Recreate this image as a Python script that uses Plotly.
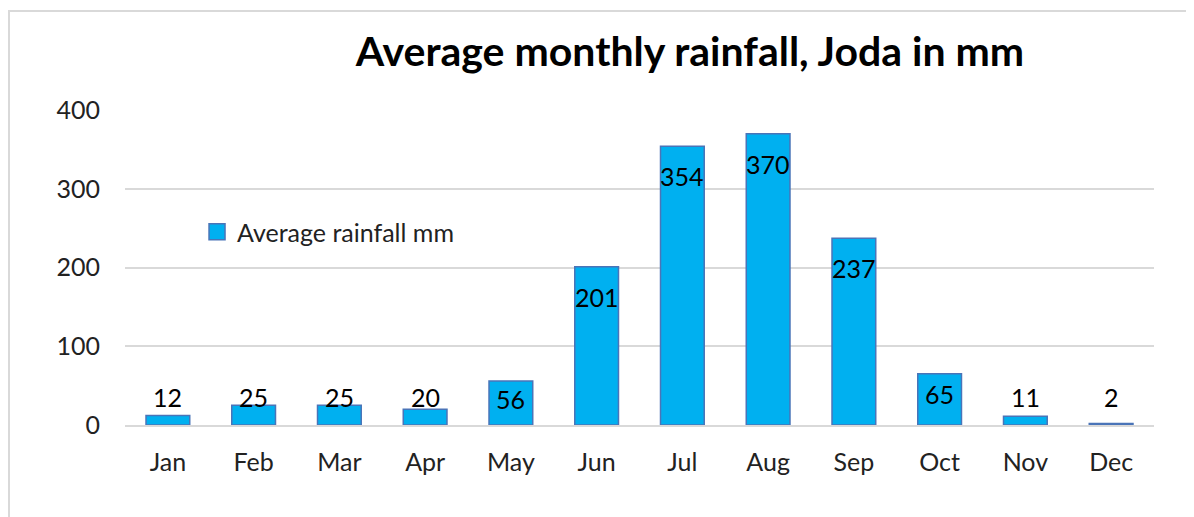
import plotly.graph_objects as go

months = ["Jan", "Feb", "Mar", "Apr", "May", "Jun", "Jul", "Aug", "Sep", "Oct", "Nov", "Dec"]
rainfall = [12, 25, 25, 20, 56, 201, 354, 370, 237, 65, 11, 2]
y_ticks = [0, 100, 200, 300, 400]
series_name = "Average rainfall mm"

# page body has an 8px margin, so figure coords = page coords - 8
W, H = 1194, 517
l, r, t, b = 117, 48, 102, 100
pw, ph = W - l - r, H - t - b
y_max = 400
px_per_unit = ph / y_max

bar_color = "#00B0F0"
edge_color = "#4A74B8"

fig = go.Figure()
fig.add_trace(go.Bar(
    x=months, y=rainfall, name=series_name, showlegend=False,
    marker=dict(color=bar_color, line=dict(color=edge_color, width=1.5)),
))
# legend entry with a larger square swatch
fig.add_trace(go.Scatter(
    x=[None], y=[None], mode="markers", name=series_name,
    marker=dict(symbol="square", size=18, color=bar_color, line=dict(color=edge_color, width=1.5)),
))

annotations = []
for m, v in zip(months, rainfall):
    h_px = v * px_per_unit
    if v > 40:
        shift = -min(30, 0.4 * h_px)
    else:
        # short bars: label sits at a common height just above the bars
        shift = max(28 - h_px, 8)
    annotations.append(dict(x=m, y=v, xref="x", yref="y", text=str(v), showarrow=False,
                            yanchor="middle", yshift=shift,
                            font=dict(family="Lato", size=25, color="#000000")))

fig.update_layout(
    width=W, height=H,
    margin=dict(l=l, r=r, t=t, b=b),
    paper_bgcolor="white", plot_bgcolor="white",
    font=dict(family="Lato", size=25, color="#222222"),
    title=dict(text="<b>Average monthly rainfall, Joda in mm</b>",
               font=dict(family="Lato", size=41, color="#000000"),
               x=(690 - 8) / W, xref="container", xanchor="center",
               y=1 - (52 - 8) / H, yref="container", yanchor="middle"),
    bargap=0.49,
    showlegend=True,
    legend=dict(x=0.07, y=(425 - 232) / 315, xanchor="left", yanchor="middle",
                bgcolor="rgba(0,0,0,0)", font=dict(family="Lato", size=25, color="#222222"),
                itemwidth=30),
    xaxis=dict(showgrid=False, showline=True, linecolor="#D9D9D9", linewidth=2,
               ticks="", ticklabelstandoff=14, tickfont=dict(size=25)),
    yaxis=dict(range=[0, y_max], tickvals=y_ticks, showgrid=True, gridcolor="#D9D9D9",
               gridwidth=2, zeroline=False, showline=False, ticks="",
               ticklabelstandoff=24, tickfont=dict(size=25)),
    annotations=annotations,
    shapes=[dict(type="rect", xref="paper", yref="paper",
                 x0=-(l - 1) / pw, x1=1 + (r + 20) / pw,
                 y0=-(b + 20) / ph, y1=1 + (t - 3) / ph,
                 line=dict(color="#D9D9D9", width=2), fillcolor="rgba(0,0,0,0)", layer="below")],
)

fig.write_html("out.html")
